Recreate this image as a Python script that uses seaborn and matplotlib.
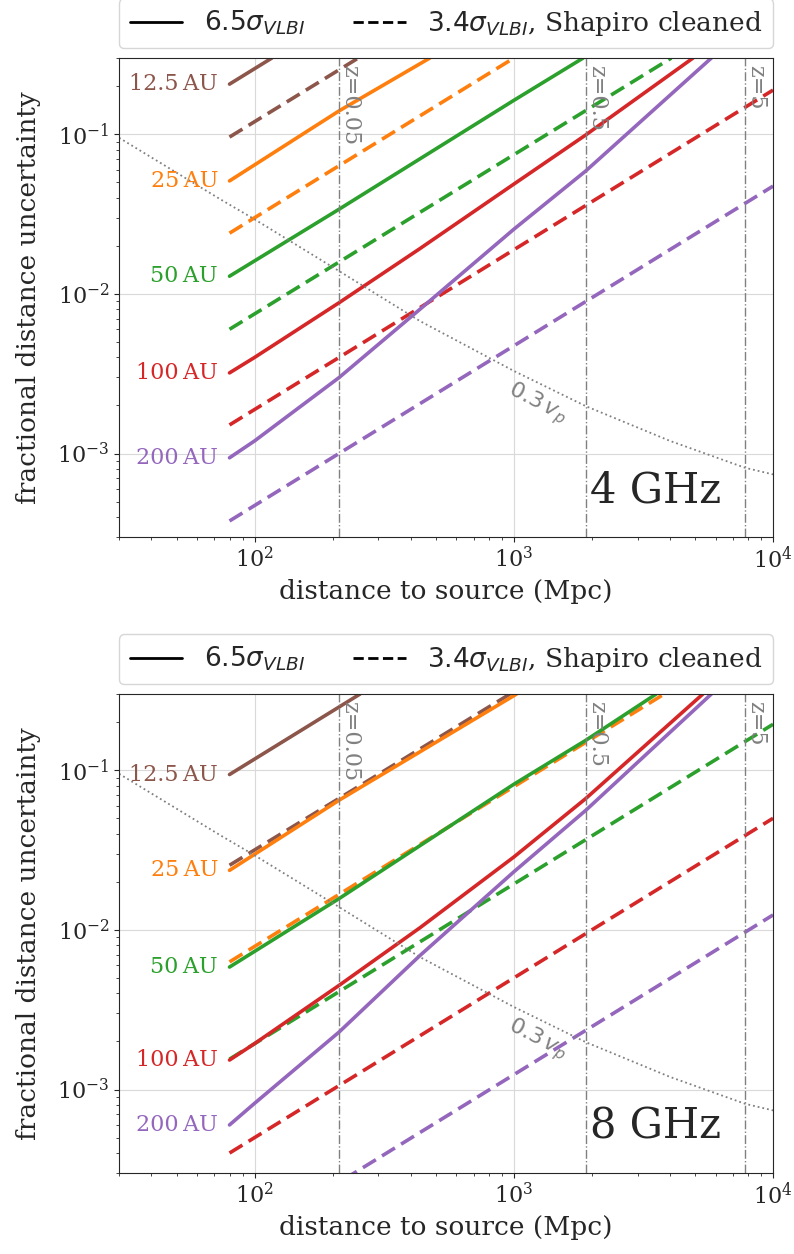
import numpy as np
import pandas as pd
import matplotlib.pyplot as plt
import seaborn as sns
from matplotlib.lines import Line2D

sns.set_style("ticks", {"axes.grid": True})
plt.rcParams.update(
    {
        "font.family": ["DejaVu Serif"],
        "mathtext.fontset": "dejavusans",
        "font.size": 16,
        "axes.labelsize": 19,
        "xtick.labelsize": 16,
        "ytick.labelsize": 16,
        "legend.fontsize": 19,
    }
)

# %%
au_labels = ["12.5\u2009AU", "25\u2009AU", "50\u2009AU", "100\u2009AU", "200\u2009AU"]
au_colors = ["#8c564b", "#ff7f0e", "#2ca02c", "#d62728", "#9467bd"]
panel_names = ["4 GHz", "8 GHz"]

# 4 GHz, 6.5 sigma_VLBI (solid), one list per AU value
s4_x = [
    [80, 116.5],
    [80, 211.7, 474],
    [80, 211.7, 1000, 1850],
    [80, 100, 211.7, 434, 1000, 1895, 4910],
    [80, 100, 211.7, 434, 1000, 1895, 5780],
]
s4_y = [
    [0.206, 0.3],
    [0.051, 0.140, 0.3],
    [0.0129, 0.0339, 0.163, 0.3],
    [3.2e-3, 4.0e-3, 8.8e-3, 0.0192, 0.0487, 0.099, 0.3],
    [9.4e-4, 1.2e-3, 2.99e-3, 8.0e-3, 0.0254, 0.0589, 0.3],
]
# 4 GHz, 3.4 sigma_VLBI Shapiro cleaned (dashed)
d4_x = [[80, 251], [80, 1000], [80, 4050], [80, 10000], [80, 10000]]
d4_y = [[0.096, 0.3], [0.024, 0.3], [6.0e-3, 0.3], [1.51e-3, 0.189], [3.78e-4, 0.0473]]

# 8 GHz, solid
s8_x = [
    [80, 255],
    [80, 211.7, 1024],
    [80, 211.7, 1000, 1895, 3540],
    [80, 100, 211.7, 434, 1000, 1895, 5360],
    [80, 100, 211.7, 434, 1000, 1895, 5780],
]
s8_y = [
    [0.094, 0.3],
    [0.0236, 0.0649, 0.3],
    [5.85e-3, 0.0157, 0.0817, 0.154, 0.3],
    [1.53e-3, 1.94e-3, 4.49e-3, 0.0103, 0.0286, 0.0665, 0.3],
    [6.0e-4, 8.2e-4, 2.29e-3, 6.9e-3, 0.0231, 0.0561, 0.3],
]
# 8 GHz, dashed
d8_x = [[80, 966], [80, 3800], [80, 10000], [80, 10000], [80, 10000]]
d8_y = [[0.0254, 0.3], [6.3e-3, 0.3], [1.55e-3, 0.194], [4.0e-4, 0.050], [9.9e-5, 0.0124]]

# peculiar velocity curve
vp_x = [30, 73.6, 100, 211.7, 434, 1000, 1895, 4000, 7817, 10000]
vp_y = [0.095, 0.0392, 0.0293, 0.0139, 6.76e-3, 3.29e-3, 1.98e-3, 1.2e-3, 8.13e-4, 7.4e-4]

# redshift markers (Mpc)
z_dist = [211.7, 1895, 7817]
z_labels = ["z=0.05", "z=0.5", "z=5"]

panels = [(s4_x, s4_y, d4_x, d4_y), (s8_x, s8_y, d8_x, d8_y)]

# %%
fig, axes = plt.subplots(2, 1, figsize=(7.94, 12.54), dpi=100)
fig.subplots_adjust(left=0.15, right=0.9736, top=0.9537, bottom=0.0646, hspace=0.328)

for ax, (sx, sy, dx, dy), name in zip(axes, panels, panel_names):
    ax.set_xscale("log")
    ax.set_yscale("log")

    for i in range(len(au_labels)):
        sns.lineplot(x=sx[i], y=sy[i], ax=ax, color=au_colors[i], lw=2.6)
        sns.lineplot(x=dx[i], y=dy[i], ax=ax, color=au_colors[i], lw=2.6,
                     dashes=(4.2, 2.0))
        ax.text(72.3, sy[i][0], au_labels[i], color=au_colors[i], ha="right",
                va="center", fontsize=16)

    sns.lineplot(x=vp_x, y=vp_y, ax=ax, color="gray", lw=1.3, linestyle=":")
    ax.text(1230, 2.05e-3, r"$\mathit{0.3}\,v_p$", color="gray", fontsize=16,
            rotation=-27, ha="center", va="center")

    for d, lab in zip(z_dist, z_labels):
        ax.axvline(d, color="gray", lw=1, linestyle="-.")
        ax.text(d, 0.985, lab, transform=ax.get_xaxis_transform(), rotation=-90,
                ha="left", va="top", color="gray", fontsize=16)

    ax.text(0.92, 0.073, name, transform=ax.transAxes, ha="right", va="baseline",
            fontsize=30)

    ax.set_xlim(30, 1e4)
    ax.set_ylim(3e-4, 0.3)
    ax.set_xlabel("distance to source (Mpc)")
    ax.set_ylabel("fractional distance uncertainty", labelpad=12)
    ax.grid(True, which="major", color="0.85")
    ax.grid(False, which="minor")

    handles = [
        Line2D([], [], color="k", lw=2, linestyle="-"),
        Line2D([], [], color="k", lw=2, linestyle="--"),
    ]
    ax.legend(handles, [r"$6.5\sigma_{VLBI}$", r"$3.4\sigma_{VLBI}$, Shapiro cleaned"],
              loc="lower left", bbox_to_anchor=(0, 1.02, 1, 0.1), mode="expand",
              ncol=2, borderaxespad=0)

fig.savefig("out.png", dpi=100)
